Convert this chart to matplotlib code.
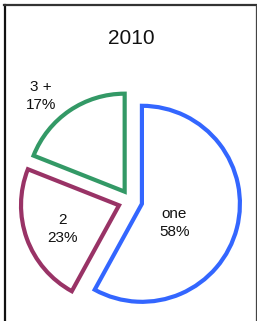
import matplotlib
matplotlib.use('Agg')
import matplotlib.pyplot as plt
from matplotlib.lines import Line2D

plt.rcParams['font.family'] = ['Liberation Sans', 'DejaVu Sans']

W, H   = 257, 321
DPI    = 100
R_PX   = 98          # pie radius in pixels
CX, CY = 131, 201    # pie centre in pixels (from top-left)

labels  = ['one', '2', '3 +']
pcts    = ['58%', '23%', '17%']
shares  = [58, 23, 19]
colors  = ['#3366ff', '#993366', '#339966']
explode = [0.115, 0.13, 0.115]
# label anchor points (data units, pie radius = 1)
label_xy = [(0.44, -0.225), (-0.695, -0.285), (-0.92, 1.07)]

fig = plt.figure(figsize=(W / DPI, H / DPI), dpi=DPI)
fig.patch.set_facecolor('white')
ax = fig.add_axes([0, 0, 1, 1])

wedges, _ = ax.pie(shares, explode=explode, startangle=90, counterclock=False,
                   radius=1.0,
                   wedgeprops=dict(facecolor='white', linewidth=3, joinstyle='miter'))
for w, c in zip(wedges, colors):
    w.set_edgecolor(c)

for (x, y), lab, p in zip(label_xy, labels, pcts):
    ax.text(x, y, f'{lab}\n{p}', ha='center', va='center', fontsize=11,
            linespacing=1.35, color='#111111')

ax.set_aspect('auto')
ax.set_xlim(-CX / R_PX, (W - CX) / R_PX)
ax.set_ylim(-(H - CY) / R_PX, CY / R_PX)
ax.axis('off')

fig.text(131 / W, 1 - 39 / H, '2010', ha='center', va='center',
         fontsize=15, color='#111111')

# frame round the chart (no bottom edge)
fig.add_artist(Line2D([4.5 / W, 4.5 / W], [0, 1 - 4.5 / H],
                      transform=fig.transFigure, color='#111111', linewidth=1.6))
fig.add_artist(Line2D([4 / W, 255.5 / W], [1 - 4.5 / H, 1 - 4.5 / H],
                      transform=fig.transFigure, color='#333333', linewidth=1.6))
fig.add_artist(Line2D([255.5 / W, 255.5 / W], [0, 1 - 4.5 / H],
                      transform=fig.transFigure, color='#444444', linewidth=0.9))

plt.savefig('out.png', dpi=DPI, facecolor='white')
plt.close()
